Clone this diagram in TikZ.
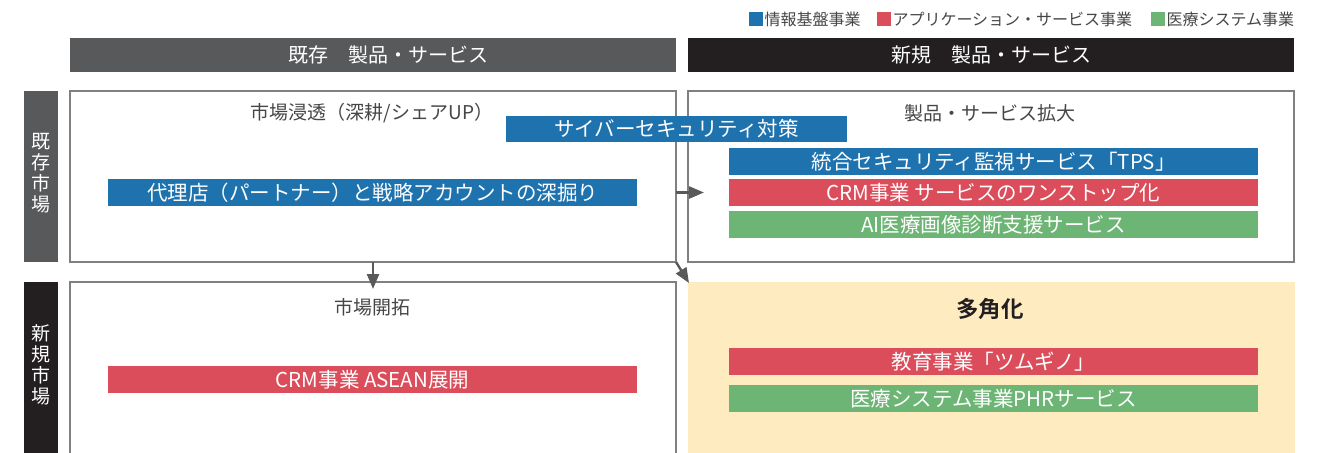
\documentclass[tikz,border=0pt]{standalone}
\usepackage{fontspec}
\setmainfont{Noto Sans CJK JP}
\newfontfamily\jpb{Noto Sans CJK JP Bold}
\usetikzlibrary{arrows.meta}
\definecolor{dgray}{RGB}{88,89,91}
\definecolor{nblack}{RGB}{35,31,32}
\definecolor{cblue}{RGB}{30,115,175}
\definecolor{cred}{RGB}{219,77,91}
\definecolor{cgreen}{RGB}{109,181,116}
\definecolor{cyellow}{RGB}{254,235,192}
\definecolor{bgray}{RGB}{128,128,128}
\definecolor{tgray}{RGB}{70,70,72}
\begin{document}
\begin{tikzpicture}[x=1pt,y=-1pt,
  every node/.style={inner sep=0pt,outer sep=0pt},
  hdr/.style={anchor=north west,minimum width=606pt,minimum height=34pt},
  hdrtx/.style={text=white,font=\fontsize{20}{23}\selectfont},
  side/.style={anchor=north west,minimum width=34pt},
  sidetx/.style={text=white,align=center,font=\fontsize{19}{21}\selectfont},
  panel/.style={anchor=north west,draw=bgray,line width=1.2pt,fill=white,minimum width=606pt},
  title/.style={text=tgray,font=\fontsize{19}{22}\selectfont},
  bar/.style={anchor=north west,minimum height=27pt,text=white,font=\fontsize{20.5}{23}\selectfont},
  legsq/.style={anchor=north west,minimum width=14pt,minimum height=14pt},
  legtx/.style={anchor=west,text=tgray,font=\fontsize{16}{18}\selectfont},
  arr/.style={draw=dgray,line width=2.4pt,-{Triangle[length=15pt,width=12pt]}}
]
\useasboundingbox (0,0) rectangle (1329,452);
\fill[white] (0,0) rectangle (1329,452);

% legend
\node[legsq,fill=cblue] (lq1) at (749,12) {};
\node[legtx] (lt1) at ([xshift=1.5pt]lq1.east) {情報基盤事業};
\node[legsq,fill=cred] (lq2) at (877,12) {};
\node[legtx] (lt2) at ([xshift=1.5pt]lq2.east) {アプリケーション・サービス事業};
\node[legsq,fill=cgreen] (lq3) at (1151,12) {};
\node[legtx] (lt3) at ([xshift=1.5pt]lq3.east) {医療システム事業};

% headers
\node[hdr,fill=dgray] (h1) at (70,38) {};
\node[hdrtx] (h1t) at ([xshift=15pt]h1.center) {既存　製品・サービス};
\node[hdr,fill=nblack] (h2) at (688,38) {};
\node[hdrtx] (h2t) at (h2.center) {新規　製品・サービス};

% side bars
\node[side,fill=dgray,minimum height=171pt] (s1) at (24,91) {};
\node[sidetx] (s1t) at ([yshift=3pt]s1.center) {既\\存\\市\\場};
\node[side,fill=nblack,minimum height=175pt] (s2) at (24,282) {};
\node[sidetx] (s2t) at ([yshift=5pt]s2.center) {新\\規\\市\\場};

% panels
\node[panel,minimum height=171pt] (tl) at (70,91) {};
\node[panel,minimum height=171pt] (tr) at (688,91) {};
\node[panel,minimum height=185pt] (bl) at (70,282) {};
\node[anchor=north west,fill=cyellow,minimum width=607pt,minimum height=175pt] (br) at (688,282) {};

% titles
\node[title] (t1) at (372,113) {市場浸透（深耕/シェアUP）};
\node[title] (t2) at (990,113) {製品・サービス拡大};
\node[title] (t3) at (372,307) {市場開拓};
\node[text=nblack,font=\jpb\fontsize{22.5}{25}\selectfont] (t4) at (990,309) {多角化};

% bars
\node[bar,fill=cblue,minimum width=529pt] (b1) at (108,179) {代理店（パートナー）と戦略アカウントの深掘り};
\node[bar,fill=cblue,minimum width=529pt] (b2) at (729,148) {統合セキュリティ監視サービス「TPS」};
\node[bar,fill=cred,minimum width=529pt] (b3) at (729,179) {CRM事業 サービスのワンストップ化};
\node[bar,fill=cgreen,minimum width=529pt] (b4) at (729,211) {AI医療画像診断支援サービス};
\node[bar,fill=cred,minimum width=529pt] (b5) at (108,366) {CRM事業 ASEAN展開};
\node[bar,fill=cred,minimum width=529pt] (b6) at (729,348) {教育事業「ツムギノ」};
\node[bar,fill=cgreen,minimum width=529pt] (b7) at (729,385) {医療システム事業PHRサービス};
\node[bar,fill=cblue,minimum width=341pt,minimum height=26pt] (b0) at (506,116) {サイバーセキュリティ対策};

% arrows
\draw[arr] (tl.east |- b1) -- ([xshift=16pt]tr.west |- b1);
\draw[arr] (tl.south) -- ([yshift=-7pt]bl.north);
\draw[arr] (tl.south east) -- ([xshift=1pt,yshift=-1pt]br.north west);
\end{tikzpicture}
\end{document}
